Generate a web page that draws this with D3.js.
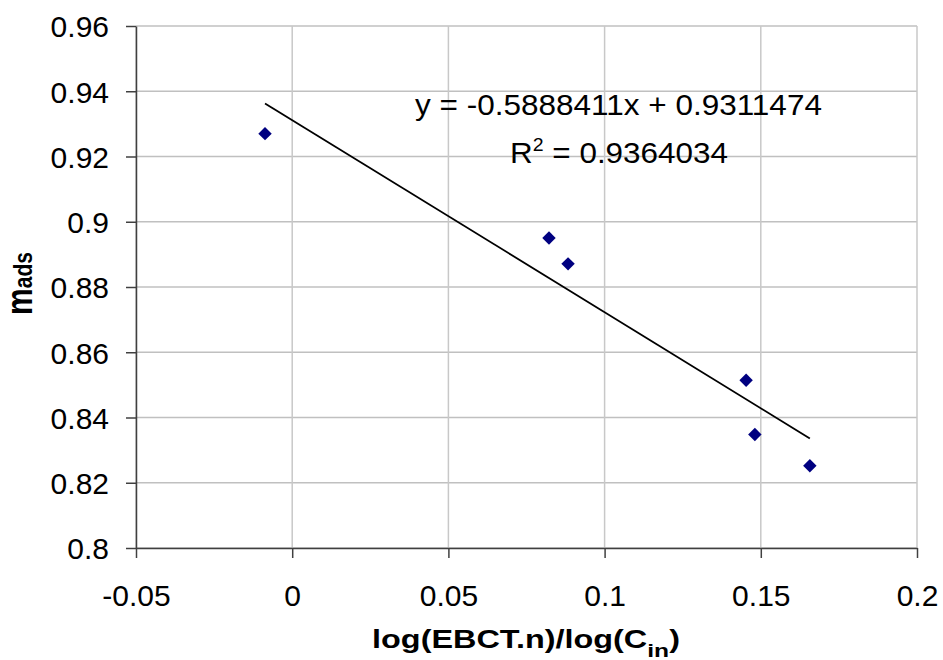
<!DOCTYPE html>
<html>
<head>
<meta charset="utf-8">
<script src="https://cdn.jsdelivr.net/npm/d3@7"></script>
<style>
  html, body { margin: 0; padding: 0; background: #fff; }
  svg { display: block; font-family: "Liberation Sans", Arial, sans-serif; }
</style>
</head>
<body>
<svg id="chart" width="943" height="660"></svg>
<script>
// ---- data ----
const xValues = [-0.0087, 0.0822, 0.0883, 0.1453, 0.1481, 0.1657];
const yValues = [0.927, 0.895, 0.8871, 0.8514, 0.8348, 0.8252];
const xTicks = [-0.05, 0, 0.05, 0.1, 0.15, 0.2];
const yTicks = [0.8, 0.82, 0.84, 0.86, 0.88, 0.9, 0.92, 0.94, 0.96];
const xTickLabels = ["-0.05", "0", "0.05", "0.1", "0.15", "0.2"];
const yTickLabels = ["0.8", "0.82", "0.84", "0.86", "0.88", "0.9", "0.92", "0.94", "0.96"];
const trendSlope = -0.5888411;
const trendIntercept = 0.9311474;
const equationText = "y = -0.5888411x + 0.9311474";
const r2Value = "0.9364034";

// ---- layout ----
const svg = d3.select("#chart");
const plotL = 136, plotR = 917, plotT = 26, plotB = 548;

const x = d3.scaleLinear().domain([-0.05, 0.2]).range([plotL, plotR]);
const y = d3.scaleLinear().domain([0.8, 0.96]).range([plotB, plotT]);

// helper: stretch a text element horizontally to a target width, centred at cx
function fitWidth(sel, cx, baseY, targetW) {
  const w = sel.node().getBBox().width;
  const s = targetW / w;
  sel.attr("x", 0).attr("y", 0).attr("text-anchor", "middle")
     .attr("transform", `translate(${cx},${baseY}) scale(${s},1)`);
}

// gridlines
const grid = svg.append("g");
grid.selectAll("line.h").data(yTicks).join("line")
  .attr("x1", plotL).attr("x2", plotR)
  .attr("y1", d => y(d)).attr("y2", d => y(d))
  .attr("stroke", "#c0c0c0").attr("stroke-width", 1.5);
grid.selectAll("line.v").data(xTicks).join("line")
  .attr("y1", plotT).attr("y2", plotB)
  .attr("x1", d => x(d)).attr("x2", d => x(d))
  .attr("stroke", "#c8c8c8").attr("stroke-width", 1.5);

// axes
const yAxis = d3.axisLeft(y).tickValues(yTicks)
  .tickFormat((d, i) => yTickLabels[i]).tickSize(10).tickSizeOuter(0).tickPadding(17);
const xAxis = d3.axisBottom(x).tickValues(xTicks)
  .tickFormat((d, i) => xTickLabels[i]).tickSize(10).tickSizeOuter(0).tickPadding(27);

const gy = svg.append("g").attr("transform", `translate(${plotL},0)`).call(yAxis);
const gx = svg.append("g").attr("transform", `translate(0,${plotB})`).call(xAxis);
[gx, gy].forEach(g => {
  g.select(".domain").attr("stroke", "#404040").attr("stroke-width", 1.5);
  g.selectAll(".tick line").attr("stroke", "#404040").attr("stroke-width", 1.5);
  g.selectAll(".tick text").attr("fill", "#000")
    .style("font-family", '"Liberation Sans", Arial, sans-serif')
    .style("font-size", "30px");
});
gy.selectAll(".tick text").attr("dy", "0.36em");
gx.selectAll(".tick text").attr("dy", "0.71em");

// trend line
const xMin = d3.min(xValues), xMax = d3.max(xValues);
svg.append("line")
  .attr("x1", x(xMin)).attr("y1", y(trendSlope * xMin + trendIntercept))
  .attr("x2", x(xMax)).attr("y2", y(trendSlope * xMax + trendIntercept))
  .attr("stroke", "#000").attr("stroke-width", 1.8);

// points (diamonds)
const diamond = d3.symbol().type(d3.symbolSquare).size(90);
svg.selectAll("path.pt").data(xValues).join("path")
  .attr("d", diamond)
  .attr("transform", (d, i) => `translate(${x(d)},${y(yValues[i])}) rotate(45)`)
  .attr("fill", "#000080");

// equation text
const eq = svg.append("text").style("font-size", "29px").text(equationText);
fitWidth(eq, 618.5, 115, 407);
const r2 = svg.append("text").style("font-size", "29px");
r2.append("tspan").text("R");
r2.append("tspan").attr("dy", -12).style("font-size", "18px").text("2");
r2.append("tspan").attr("dy", 12).text(" = " + r2Value);
fitWidth(r2, 619, 163, 218);

// x axis title
const xt = svg.append("text")
  .style("font-size", "25px").style("font-weight", "bold");
xt.append("tspan").text("log(EBCT.n)/log(C");
xt.append("tspan").attr("dy", 9).style("font-size", "19px").text("in");
xt.append("tspan").attr("dy", -9).text(")");
fitWidth(xt, 526, 648, 308);

// y axis title (rotated): length along text ~63px, glyph heights stretched
const yt = svg.append("text")
  .attr("text-anchor", "middle")
  .style("font-weight", "bold");
yt.append("tspan").style("font-size", "30px").text("m");
yt.append("tspan").style("font-size", "21px").text("ads");
const ytw = yt.node().getBBox().width;
yt.attr("transform", `translate(32,283.5) rotate(-90) scale(${63 / ytw},1.2)`);
</script>
</body>
</html>
